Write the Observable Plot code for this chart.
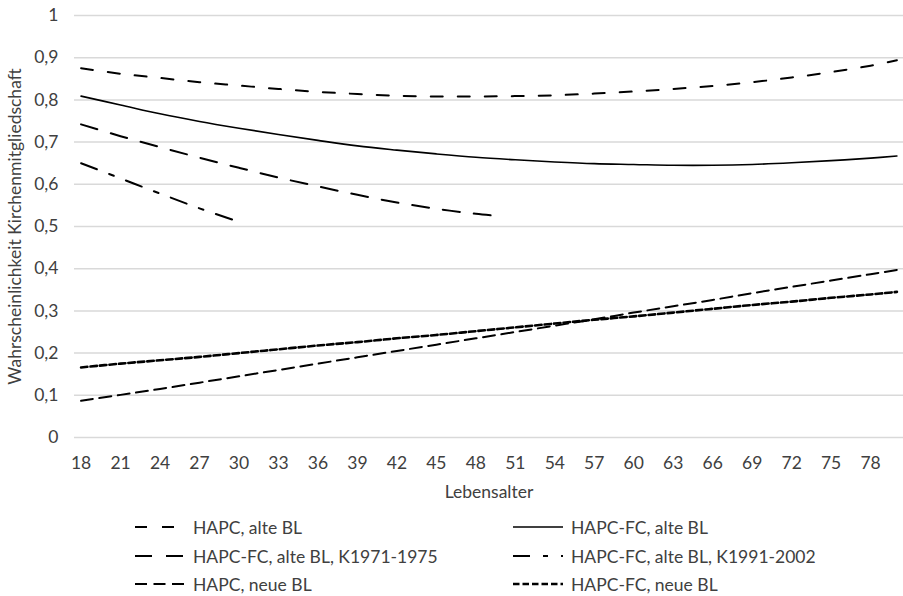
<!DOCTYPE html>
<html>
<head>
<meta charset="utf-8">
<script src="https://cdn.jsdelivr.net/npm/d3@7"></script>
<script src="https://cdn.jsdelivr.net/npm/@observablehq/plot@0.6"></script>
<style>
  html, body { margin: 0; padding: 0; background: #fff; }
  body { width: 903px; height: 596px; position: relative; overflow: hidden; font-family: Lato, "Open Sans", sans-serif; }
  #chart { position: absolute; left: 0; top: 0; }
  .leg { position: absolute; display: flex; align-items: center; font-size: 17.5px; color: #404040; white-space: nowrap; }
  .leg svg { display: block; margin-right: 8px; }
</style>
</head>
<body>
<div id="chart"></div>
<div id="legend"></div>
<script>
// ---- data ----
const ages = [18,21,24,27,30,33,36,39,42,45,48,51,54,57,60,63,66,69,72,75,78,80];
const hapcAlt = [0.875,0.862,0.852,0.842,0.834,0.826,0.819,0.814,0.810,0.808,0.808,0.809,0.811,0.815,0.820,0.826,0.833,0.842,0.853,0.866,0.881,0.894];
const hapcFcAlt = [0.809,0.788,0.767,0.749,0.733,0.718,0.704,0.691,0.681,0.672,0.664,0.658,0.653,0.649,0.647,0.645,0.645,0.647,0.651,0.656,0.662,0.667];
const agesK1971 = [18,21,24,27,30,33,36,39,42,45,48,50];
const hapcFcK1971 = [0.742,0.714,0.688,0.663,0.639,0.616,0.595,0.575,0.557,0.542,0.530,0.524];
const agesK1991 = [18,21,24,27,30];
const hapcFcK1991 = [0.650,0.614,0.578,0.543,0.511];
const hapcNeu = [0.087,0.101,0.115,0.130,0.145,0.160,0.175,0.190,0.205,0.220,0.235,0.250,0.265,0.280,0.296,0.311,0.326,0.342,0.357,0.372,0.387,0.397];
const hapcFcNeu = [0.166,0.175,0.183,0.191,0.200,0.209,0.218,0.226,0.235,0.243,0.252,0.261,0.270,0.279,0.287,0.296,0.305,0.314,0.322,0.331,0.339,0.345];
const xTicks = [18,21,24,27,30,33,36,39,42,45,48,51,54,57,60,63,66,69,72,75,78];
const yTicks = [0,0.1,0.2,0.3,0.4,0.5,0.6,0.7,0.8,0.9,1];
const seriesNames = ["HAPC, alte BL","HAPC-FC, alte BL","HAPC-FC, alte BL, K1971-1975","HAPC-FC, alte BL, K1991-2002","HAPC, neue BL","HAPC-FC, neue BL"];

// ---- styles ----
const styles = [
  {dash: "12,15", width: 2},
  {dash: null, width: 1.6},
  {dash: "17,14", width: 2},
  {dash: "17,13,5,13", width: 2},
  {dash: "12,6.5", width: 2},
  {dash: "6.5,3", width: 2.6}
];

const toRows = (xs, ys) => xs.map((a, i) => ({age: a, v: ys[i]}));
const series = [
  toRows(ages, hapcAlt),
  toRows(ages, hapcFcAlt),
  toRows(agesK1971, hapcFcK1971),
  toRows(agesK1991, hapcFcK1991),
  toRows(ages, hapcNeu),
  toRows(ages, hapcFcNeu)
];

const fmt = d => String(d).replace(".", ",");

const plot = Plot.plot({
  width: 903,
  height: 505,
  marginLeft: 74,
  marginRight: 0,
  marginTop: 15,
  marginBottom: 68,
  style: {fontFamily: "Lato, 'Open Sans', sans-serif", fontSize: "17.5px", color: "#404040", background: "#fff"},
  x: {domain: [17.5, 80.5]},
  y: {domain: [0, 1]},
  marks: [
    Plot.ruleY(yTicks, {stroke: "#d9d9d9", strokeWidth: 1.5, x1: 17.5, x2: 80.5}),
    Plot.axisY(yTicks, {tickSize: 0, tickPadding: 16, tickFormat: fmt, label: "Wahrscheinlichkeit Kirchenmitgliedschaft", labelAnchor: "center", labelArrow: "none", labelOffset: 66}),
    Plot.axisX(xTicks, {tickSize: 0, tickPadding: 19, label: "Lebensalter", labelAnchor: "center", labelArrow: "none", labelOffset: 60}),
    ...series.map((s, i) => Plot.line(s, {
      x: "age", y: "v", curve: "catmull-rom",
      stroke: "#000", strokeWidth: styles[i].width,
      strokeDasharray: styles[i].dash
    }))
  ]
});
document.getElementById("chart").appendChild(plot);

// ---- legend ----
const legendPos = [
  {left: 135, top: 527}, {left: 513, top: 527},
  {left: 135, top: 556}, {left: 513, top: 556},
  {left: 135, top: 584}, {left: 513, top: 584}
];
const legend = document.getElementById("legend");
seriesNames.forEach((name, i) => {
  const div = document.createElement("div");
  div.className = "leg";
  div.style.left = legendPos[i].left + "px";
  div.style.top = (legendPos[i].top - 11) + "px";
  div.style.height = "22px";
  const ns = "http://www.w3.org/2000/svg";
  const svg = document.createElementNS(ns, "svg");
  svg.setAttribute("width", 50);
  svg.setAttribute("height", 6);
  const line = document.createElementNS(ns, "line");
  line.setAttribute("x1", 0); line.setAttribute("x2", 50);
  line.setAttribute("y1", 3); line.setAttribute("y2", 3);
  line.setAttribute("stroke", "#000");
  line.setAttribute("stroke-width", styles[i].width);
  if (styles[i].dash) line.setAttribute("stroke-dasharray", styles[i].dash);
  svg.appendChild(line);
  div.appendChild(svg);
  const span = document.createElement("span");
  span.textContent = name;
  div.appendChild(span);
  legend.appendChild(div);
});
</script>
</body>
</html>
